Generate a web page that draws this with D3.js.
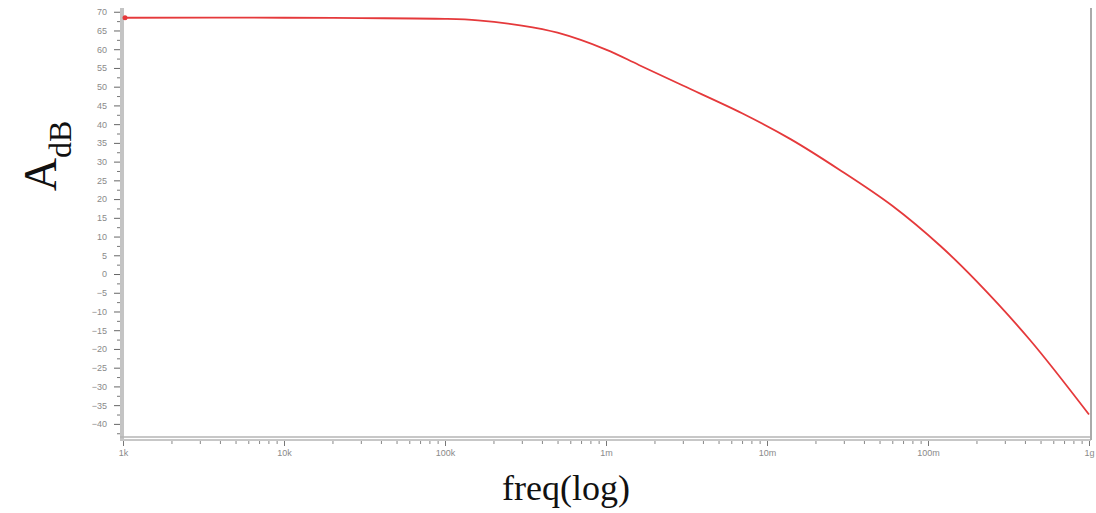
<!DOCTYPE html>
<html>
<head>
<meta charset="utf-8">
<script src="https://cdn.jsdelivr.net/npm/d3@7"></script>
<style>
  body { margin: 0; background: #fff; }
  svg { display: block; }
  .tick text { font-family: Arial, "Liberation Sans", sans-serif; font-size: 9px; fill: #8a8a8a; }
</style>
</head>
<body>
<svg id="chart"></svg>
<script>
const width = 1096;
const height = 513;
const margin = {top: 8, right: 5, bottom: 76, left: 123};

// frequency response
const freqs = [1e3, 1e4, 3e4, 1e5, 1.6e5, 3e5, 5e5, 1e6, 1.6e6, 3e6, 7e6, 1.4e7, 2.8e7, 6e7, 1.2e8, 2e8, 4.3e8, 1e9];
const gainDb = [68.4, 68.4, 68.3, 68.1, 67.7, 66.3, 64.4, 59.9, 55.8, 50.3, 42.9, 36.0, 27.9, 18.2, 7.4, -1.9, -17.6, -37.5];

const xTickValues = [1e3, 1e4, 1e5, 1e6, 1e7, 1e8, 1e9];
const xTickLabels = ["1k", "10k", "100k", "1m", "10m", "100m", "1g"];
const yTickValues = d3.range(-40, 71, 5);

const svg = d3.select("#chart")
    .attr("width", width)
    .attr("height", height);

const innerW = width - margin.left - margin.right;
const innerH = height - margin.top - margin.bottom;

const x = d3.scaleLog()
    .domain([1e3, 1e9])
    .range([margin.left, margin.left + innerW - 2]);

const y = d3.scaleLinear()
    .domain([-43.5, 71])
    .range([margin.top + innerH, margin.top]);

// y axis: light gray bar with dark ticks to the left
svg.append("rect")
    .attr("x", margin.left - 3)
    .attr("y", margin.top)
    .attr("width", 4)
    .attr("height", innerH + 2)
    .attr("fill", "#c4c4c4");

const yMinor = d3.range(-42.5, 71, 2.5).filter(v => v % 5 !== 0);
svg.append("g")
    .attr("transform", "translate(" + (margin.left - 3) + ",0)")
    .call(d3.axisLeft(y).tickValues(yMinor).tickSize(3).tickFormat(""))
    .call(g => g.select(".domain").remove())
    .call(g => g.selectAll("line").attr("stroke", "#777"));

svg.append("g")
    .attr("transform", "translate(" + (margin.left - 3) + ",0)")
    .call(d3.axisLeft(y).tickValues(yTickValues).tickSize(6).tickPadding(7))
    .call(g => g.select(".domain").remove())
    .call(g => g.selectAll("line").attr("stroke", "#666"));

// bottom axis: double gray line
const bottomY = margin.top + innerH;
[0, 3].forEach(d => {
    svg.append("line")
        .attr("x1", margin.left - 3)
        .attr("x2", margin.left + innerW)
        .attr("y1", bottomY + d)
        .attr("y2", bottomY + d)
        .attr("stroke", "#b4b4b4")
        .attr("stroke-width", 1.5);
});

const xMinor = [];
for (let e = 3; e < 9; e++) {
    for (let m = 2; m <= 9; m++) xMinor.push(m * Math.pow(10, e));
}

svg.append("g")
    .attr("transform", "translate(0," + (bottomY + 4) + ")")
    .call(d3.axisBottom(x).tickValues(xMinor).tickSize(3).tickFormat(""))
    .call(g => g.select(".domain").remove())
    .call(g => g.selectAll("line").attr("stroke", "#888"));

svg.append("g")
    .attr("transform", "translate(0," + (bottomY + 4) + ")")
    .call(d3.axisBottom(x).tickValues(xTickValues).tickSize(5).tickPadding(4)
        .tickFormat((d, i) => xTickLabels[i]))
    .call(g => g.select(".domain").remove())
    .call(g => g.selectAll("line").attr("stroke", "#777"));

// right border
svg.append("line")
    .attr("x1", margin.left + innerW)
    .attr("x2", margin.left + innerW)
    .attr("y1", margin.top)
    .attr("y2", bottomY + 3)
    .attr("stroke", "#aaa")
    .attr("stroke-width", 2);

// response curve
const pts = freqs.map((f, i) => [f, gainDb[i]]);
const line = d3.line()
    .x(d => x(d[0]))
    .y(d => y(d[1]))
    .curve(d3.curveCatmullRom.alpha(0.5));

svg.append("path")
    .datum(pts)
    .attr("d", line)
    .attr("fill", "none")
    .attr("stroke", "#e5393b")
    .attr("stroke-width", 1.8);

svg.append("circle")
    .attr("cx", x(freqs[0]) + 2)
    .attr("cy", y(gainDb[0]))
    .attr("r", 2.5)
    .attr("fill", "#e5393b");

// axis titles
const yTitle = svg.append("text")
    .attr("transform", "translate(56,156) rotate(-90)")
    .attr("text-anchor", "middle")
    .attr("font-family", "'Liberation Serif', 'Times New Roman', serif")
    .attr("fill", "#111");
yTitle.append("tspan").attr("font-size", 46).text("A");
yTitle.append("tspan").attr("font-size", 32).attr("dy", 15).text("dB");

svg.append("text")
    .attr("x", 566)
    .attr("y", 500)
    .attr("text-anchor", "middle")
    .attr("font-family", "'Liberation Serif', 'Times New Roman', serif")
    .attr("font-size", 36)
    .attr("fill", "#111")
    .text("freq(log)");
</script>
</body>
</html>
